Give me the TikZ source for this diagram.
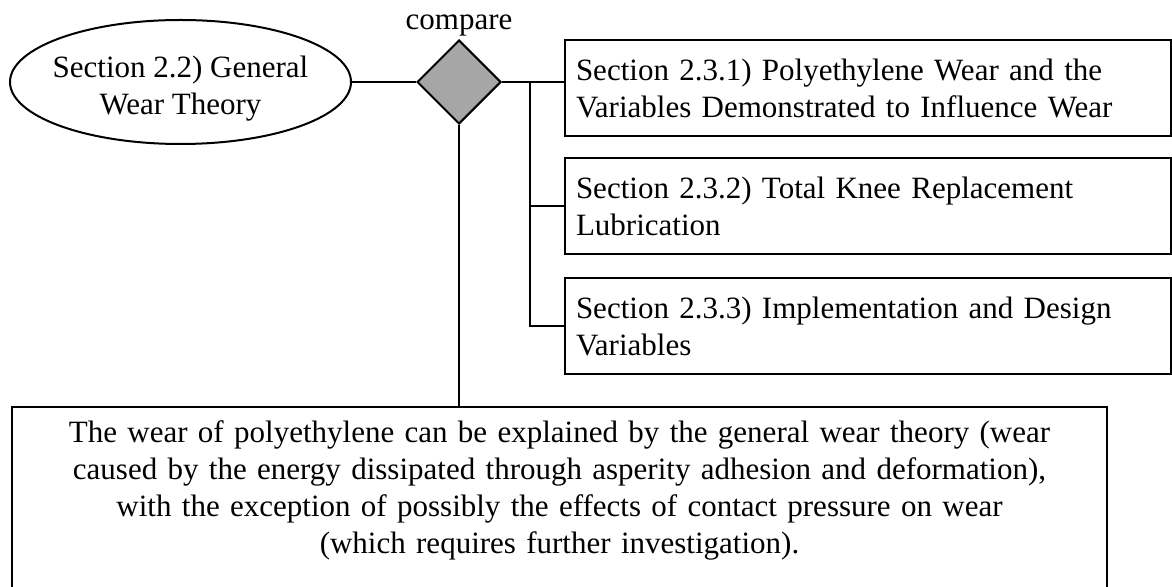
\documentclass[tikz,border=0pt]{standalone}
\usepackage{fontspec}
\setmainfont{Liberation Serif}
\usetikzlibrary{positioning,shapes.geometric}
\definecolor{diafill}{HTML}{A6A6A6}
\begin{document}
\begin{tikzpicture}[
                x=0.5pt, y=-0.5pt,
                node distance=32pt,
                font=\fontsize{15.5}{18.5}\selectfont,
                block/.style={
                    rectangle,
                    draw,
                    line width=1pt,
                    align=left,
                    text width=292pt,
                    inner xsep=5.5pt,
                    minimum height=48pt
                },
                oval/.style={
                    ellipse,
                    draw,
                    line width=1pt,
                    align=center,
                    inner xsep=-3.7pt,
                    inner ysep=0pt,
                    text height=36pt,
                    minimum width=170.5pt,
                    minimum height=62pt
                },
                decision/.style={
                    diamond,
                    draw,
                    line width=1pt,
                    fill=diafill,
                    inner sep=0pt,
                    minimum width=42pt,
                    minimum height=42pt
                },
                summary/.style={
                    rectangle,
                    draw,
                    line width=1pt,
                    align=center,
                    text width=536pt,
                    inner xsep=5.75pt,
                    inner ysep=7pt,
                    text depth=90pt
                },
                line/.style={
                    draw,
                    line width=1pt
                }]

                \useasboundingbox (0,0) rectangle (1172,587);
                \clip (0,0) rectangle (1172,587);

                \node [decision] (cmp) at (459,82) {};
                \node [above=1pt of cmp, inner sep=0pt] (cmp_label) {compare};

                \node [oval, left=32pt of cmp] (theory) {Section 2.2) General\\Wear Theory};

                \node [block, below right=0pt and 52.5pt of cmp.north] (sec_wear) {Section 2.3.1) Polyethylene Wear and the\\Variables Demonstrated to Influence Wear};
                \node [block, below=10pt of sec_wear] (sec_lubrication) {Section 2.3.2) Total Knee Replacement\\Lubrication};
                \node [block, below=11pt of sec_lubrication] (sec_design) {Section 2.3.3) Implementation and Design\\Variables};

                \node [summary, below=140.5pt of cmp, xshift=50.25pt] (conclusion) {The wear of polyethylene can be explained by the general wear theory (wear\\caused by the energy dissipated through asperity adhesion and deformation),\\with the exception of possibly the effects of contact pressure on wear\\(which requires further investigation).};

                \coordinate [xshift=14pt] (bus) at (cmp.east);

                \draw [line] (theory) -- (cmp);
                \draw [line] (cmp.east) -- (cmp.east -| sec_wear.west);
                \draw [line] (bus) |- (sec_lubrication.west);
                \draw [line] (bus) |- (sec_design.west);

                \draw [line] (cmp.south) -- (cmp.south |- conclusion.north);

            \end{tikzpicture}
\end{document}
